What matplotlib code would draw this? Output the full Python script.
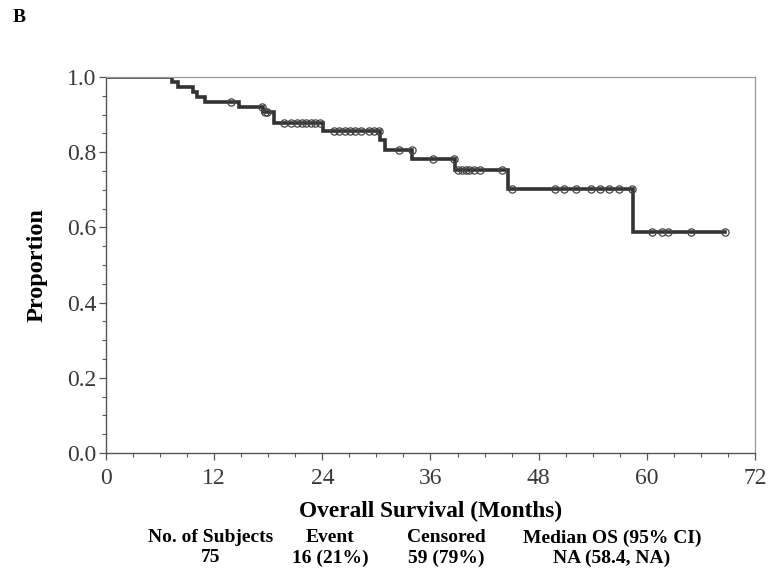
import numpy as np
import matplotlib
matplotlib.use('Agg')
import matplotlib.pyplot as plt
from matplotlib.ticker import MultipleLocator

plt.rcParams['font.family'] = ['Liberation Serif', 'DejaVu Serif']

# Kaplan-Meier steps (months, proportion)
step_times = [0, 7.3, 7.95, 9.7, 10.1, 11.0, 14.8, 17.4, 18.6, 24.1, 30.4, 31.0, 34.0, 38.7, 44.6, 58.5]
step_surv = [1.0, 0.987, 0.973, 0.960, 0.947, 0.933, 0.919, 0.906, 0.878, 0.857, 0.832, 0.806, 0.781, 0.752, 0.703, 0.589]
last_time = 68.7

# censored observations (months)
censor_times = [13.9, 17.3, 17.6, 17.9,
                19.8, 20.5, 21.2, 21.7, 22.2, 22.7, 23.2, 23.7,
                25.3, 25.9, 26.5, 27.1, 27.6, 28.3, 29.2, 29.7, 30.3,
                32.5, 33.9, 36.3, 38.6,
                39.1, 39.5, 39.9, 40.3, 40.8, 41.5, 43.9,
                45.0, 49.8, 50.8, 52.1, 53.8, 54.8, 55.8, 56.9, 58.3,
                60.6, 61.7, 62.4, 64.9, 68.7]

table_heads = ['No. of Subjects', 'Event', 'Censored', 'Median OS (95% CI)']
table_vals = ['75', '16 (21%)', '59 (79%)', 'NA (58.4, NA)']

fig = plt.figure(figsize=(7.68, 5.73), dpi=100)
ax = fig.add_axes([106/768, 1-453/573, (755-106)/768, (453-77)/573])

xs = step_times + [last_time]
ys = step_surv + [step_surv[-1]]
ax.step(xs, ys, where='post', color='#333333', lw=2.6, solid_joinstyle='miter')

idx = np.searchsorted(step_times, censor_times, side='right') - 1
cy = np.array(step_surv)[idx]
ax.plot(censor_times, cy, 'o', mfc='none', mec='#444444', ms=5.2, mew=0.9)

ax.set_xlim(0, 72)
ax.set_ylim(0, 1.0)
ax.set_xticks(range(0, 73, 12))
ax.set_yticks(np.arange(0, 1.01, 0.2))
ax.set_yticklabels(['%.1f' % v for v in np.arange(0, 1.01, 0.2)])
ax.xaxis.set_minor_locator(MultipleLocator(3))
ax.yaxis.set_minor_locator(MultipleLocator(0.05))
ax.tick_params(which='major', direction='out', length=5, width=0.9, labelsize=17,
               labelcolor='#3a3a3a', color='#555555')
ax.tick_params(axis='x', which='major', pad=6)
ax.tick_params(axis='y', which='major', pad=2)
ax.tick_params(which='minor', direction='out', length=3, width=0.8, color='#555555')
ax.tick_params(top=False, right=False)

for s in ['left', 'bottom']:
    ax.spines[s].set_color('#555555')
    ax.spines[s].set_linewidth(1.0)
for s in ['top', 'right']:
    ax.spines[s].set_color('#999999')
    ax.spines[s].set_linewidth(0.9)

ax.set_xlabel('Overall Survival (Months)', fontsize=16.8, fontweight='bold', labelpad=8)
ax.set_ylabel('Proportion', fontsize=17.5, fontweight='bold', labelpad=14)

col_x = [211, 330, 446, 612]
for cx, h, v in zip(col_x, table_heads, table_vals):
    fig.text(cx/768, 1-538/573, h, ha='center', va='center', fontsize=14, fontweight='bold')
    fig.text(cx/768, 1-558/573, v, ha='center', va='center', fontsize=14, fontweight='bold')

fig.text(19/768, 1-18/573, 'B', ha='center', va='center', fontsize=14, fontweight='bold')

fig.savefig('out.png', dpi=100)
